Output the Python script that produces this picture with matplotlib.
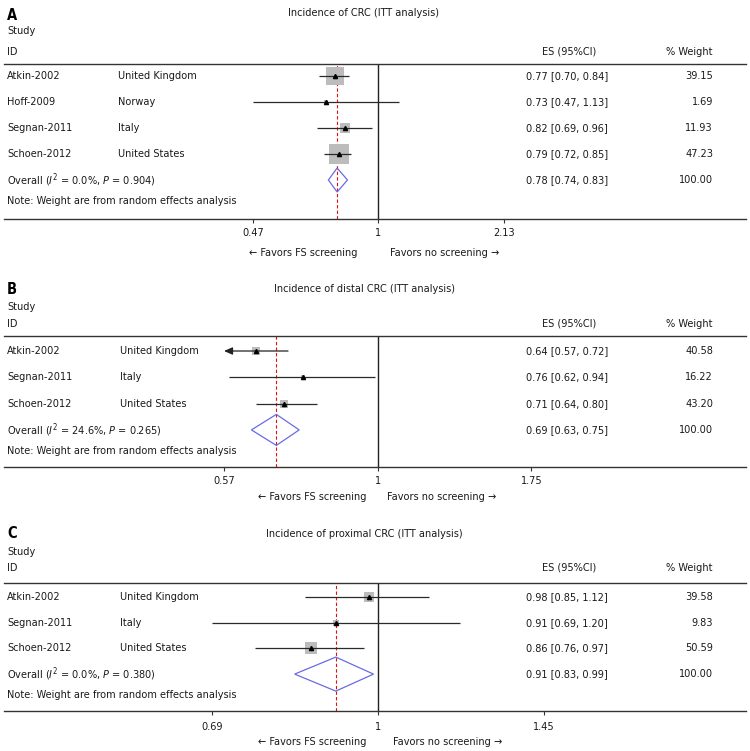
import numpy as np
import matplotlib
matplotlib.use("Agg")
import matplotlib.pyplot as plt
from matplotlib import transforms
from matplotlib.patches import Polygon
from matplotlib.ticker import NullLocator

# ---------------- data ----------------
a_title = "Incidence of CRC (ITT analysis)"
a_studies = ["Atkin-2002", "Hoff-2009", "Segnan-2011", "Schoen-2012"]
a_countries = ["United Kingdom", "Norway", "Italy", "United States"]
a_es = [0.77, 0.73, 0.82, 0.79]
a_lo = [0.70, 0.47, 0.69, 0.72]
a_hi = [0.84, 1.13, 0.96, 0.85]
a_ci_text = ["0.77 [0.70, 0.84]", "0.73 [0.47, 1.13]", "0.82 [0.69, 0.96]", "0.79 [0.72, 0.85]"]
a_weight = [39.15, 1.69, 11.93, 47.23]
a_overall = [0.78, 0.74, 0.83]
a_overall_text = "0.78 [0.74, 0.83]"
a_i2, a_p = "0.0%", "0.904"
a_ticks = [0.47, 1, 2.13]
a_ticklabels = ["0.47", "1", "2.13"]
a_arrow_left = [False, False, False, False]

b_title = "Incidence of distal CRC (ITT analysis)"
b_studies = ["Atkin-2002", "Segnan-2011", "Schoen-2012"]
b_countries = ["United Kingdom", "Italy", "United States"]
b_es = [0.64, 0.76, 0.71]
b_lo = [0.57, 0.58, 0.64]
b_hi = [0.72, 0.99, 0.80]
b_ci_text = ["0.64 [0.57, 0.72]", "0.76 [0.62, 0.94]", "0.71 [0.64, 0.80]"]
b_weight = [40.58, 16.22, 43.20]
b_overall = [0.69, 0.63, 0.75]
b_overall_text = "0.69 [0.63, 0.75]"
b_i2, b_p = "24.6%", "0.265"
b_ticks = [0.57, 1, 1.75]
b_ticklabels = ["0.57", "1", "1.75"]
b_arrow_left = [True, False, False]

c_title = "Incidence of proximal CRC (ITT analysis)"
c_studies = ["Atkin-2002", "Segnan-2011", "Schoen-2012"]
c_countries = ["United Kingdom", "Italy", "United States"]
c_es = [0.98, 0.91, 0.86]
c_lo = [0.85, 0.69, 0.76]
c_hi = [1.12, 1.20, 0.97]
c_ci_text = ["0.98 [0.85, 1.12]", "0.91 [0.69, 1.20]", "0.86 [0.76, 0.97]"]
c_weight = [39.58, 9.83, 50.59]
c_overall = [0.91, 0.83, 0.99]
c_overall_text = "0.91 [0.83, 0.99]"
c_i2, c_p = "0.0%", "0.380"
c_ticks = [0.69, 1, 1.45]
c_ticklabels = ["0.69", "1", "1.45"]
c_arrow_left = [False, False, False]

# ---------------- style ----------------
plt.rcParams["font.family"] = ["DejaVu Sans"]
plt.rcParams["font.stretch"] = "condensed"
plt.rcParams["mathtext.fontset"] = "custom"
plt.rcParams["mathtext.rm"] = "DejaVu Sans"
plt.rcParams["mathtext.it"] = "DejaVu Sans:italic"
FS = 7.8
TXT = "#1a1a1a"

W, H = 750, 751
fig = plt.figure(figsize=(W / 100, H / 100), dpi=100)
fig.patch.set_facecolor("white")


def fx(x):
    return x / W


def fy(y):
    return 1 - y / H


def panel(letter, title, studies, countries, es, lo, hi, ci_text, weight,
          overall, overall_text, i2, p, ticks, ticklabels, arrow_left, lay):
    top, bot, first, sp = lay["top"], lay["bot"], lay["first"], lay["sp"]
    L, R = 4, 746
    ax = fig.add_axes([fx(L), fy(bot), (R - L) / W, (bot - top) / H])
    ax.set_xscale("log")
    scale = (lay["p_one"] - lay["p_lo"]) / (-np.log(ticks[0]))
    ax.set_xlim(np.exp((L - lay["p_one"]) / scale), np.exp((R - lay["p_one"]) / scale))
    ax.set_ylim((bot - first) / sp, (top - first) / sp)
    for s in ["left", "right"]:
        ax.spines[s].set_visible(False)
    for s in ["top", "bottom"]:
        ax.spines[s].set_linewidth(1.0)
        ax.spines[s].set_color("#333333")
    ax.set_yticks([])
    ax.set_xticks(ticks)
    ax.set_xticklabels([])
    ax.xaxis.set_minor_locator(NullLocator())
    ax.tick_params(axis="x", length=3, width=0.8, color="#333333", direction="out")
    ax.patch.set_alpha(0)

    n = len(studies)
    rows = np.arange(n)
    ov_row = n
    ax.axvline(1, color="#222222", lw=1.0, zorder=1)
    ax.axvline(overall[0], color="#e01010", lw=0.8, ls=(0, (3, 2)), zorder=2)

    for r, e, l, h, w, arr in zip(rows, es, lo, hi, weight, arrow_left):
        side = lay["k"] * np.sqrt(w) * 0.72
        ax.scatter([e], [r], marker="s", s=side ** 2, color="#bcbcbc", lw=0, zorder=3)
        if arr:
            ax.annotate("", xy=(l, r), xytext=(h, r),
                        arrowprops=dict(arrowstyle="-|>,head_length=0.5,head_width=0.22",
                                        color="#222222", lw=0.9, shrinkA=0, shrinkB=0),
                        zorder=4)
        else:
            ax.plot([l, h], [r, r], color="#2a2a2a", lw=0.9, zorder=4, solid_capstyle="butt")
        ax.plot([e], [r], marker="^", ms=3, color="black", lw=0, zorder=5)

    dh = lay["dh"] / sp
    poly = Polygon([(overall[1], ov_row), (overall[0], ov_row - dh),
                    (overall[2], ov_row), (overall[0], ov_row + dh)],
                   closed=True, fill=False, edgecolor="#6a6ae6", lw=0.9, zorder=4)
    ax.add_patch(poly)

    tr = transforms.blended_transform_factory(fig.transFigure, ax.transData)
    for r, st, co, ct, w in zip(rows, studies, countries, ci_text, weight):
        ax.text(fx(7), r, st, transform=tr, fontsize=FS, color=TXT, va="center", ha="left")
        ax.text(fx(lay["cx"]), r, co, transform=tr, fontsize=FS, color=TXT, va="center", ha="left")
        ax.text(fx(567), r, ct, transform=tr, fontsize=FS, color=TXT, va="center", ha="center")
        ax.text(fx(713), r, f"{w:.2f}", transform=tr, fontsize=FS, color=TXT, va="center", ha="right")
    ax.text(fx(7), ov_row, r"Overall ($\mathit{I}^2$ = " + i2 + r", $\mathit{P}$ = " + p + ")",
            transform=tr, fontsize=FS, color=TXT, va="center", ha="left")
    ax.text(fx(567), ov_row, overall_text, transform=tr, fontsize=FS, color=TXT, va="center", ha="center")
    ax.text(fx(713), ov_row, "100.00", transform=tr, fontsize=FS, color=TXT, va="center", ha="right")
    ax.text(fx(7), ov_row + lay["note"] / sp, "Note: Weight are from random effects analysis",
            transform=tr, fontsize=FS, color=TXT, va="center", ha="left")

    # header texts
    fig.text(fx(7), fy(lay["letter"]), letter, fontsize=10.5, fontweight="bold", va="center", ha="left")
    fig.text(fx(364), fy(lay["title"]), title, fontsize=FS, color=TXT, va="center", ha="center")
    fig.text(fx(7), fy(lay["study"]), "Study", fontsize=FS, color=TXT, va="center", ha="left")
    fig.text(fx(7), fy(lay["id"]), "ID", fontsize=FS, color=TXT, va="center", ha="left")
    fig.text(fx(569), fy(lay["id"]), "ES (95%CI)", fontsize=FS, color=TXT, va="center", ha="center")
    fig.text(fx(713), fy(lay["id"]), "% Weight", fontsize=FS, color=TXT, va="center", ha="right")

    # tick labels and favours text
    trx = transforms.blended_transform_factory(ax.transData, fig.transFigure)
    for t, tl in zip(ticks, ticklabels):
        ax.text(t, fy(lay["tick"]), tl, transform=trx, fontsize=FS, color=TXT, va="center", ha="center")
    tl_ = transforms.offset_copy(trx, fig=fig, x=-lay["fl"], y=0, units="dots")
    tr_ = transforms.offset_copy(trx, fig=fig, x=lay["fr"], y=0, units="dots")
    ax.text(1, fy(lay["fav"]), "\u2190 Favors FS screening", transform=tl_, fontsize=FS, color=TXT,
            va="center", ha="right")
    ax.text(1, fy(lay["fav"]), "Favors no screening \u2192", transform=tr_, fontsize=FS, color=TXT,
            va="center", ha="left")


lay_a = dict(top=64, bot=219, first=76, sp=26.0, p_lo=253, p_one=378.4, k=2.9, dh=12, note=21,
             letter=15, title=13, study=31, id=52, tick=233, fav=253, cx=118, fl=21, fr=12)
lay_b = dict(top=336, bot=467, first=351, sp=26.3, p_lo=224, p_one=378, k=1.15, dh=15.5, note=21,
             letter=290, title=289, study=307, id=324, tick=481, fav=497, cx=120, fl=11, fr=9)
lay_c = dict(top=583, bot=711, first=597, sp=25.7, p_lo=212, p_one=378, k=1.6, dh=17, note=21,
             letter=534, title=534, study=552, id=568, tick=727, fav=742, cx=120, fl=11, fr=15)

panel("A", a_title, a_studies, a_countries, a_es, a_lo, a_hi, a_ci_text, a_weight,
      a_overall, a_overall_text, a_i2, a_p, a_ticks, a_ticklabels, a_arrow_left, lay_a)
panel("B", b_title, b_studies, b_countries, b_es, b_lo, b_hi, b_ci_text, b_weight,
      b_overall, b_overall_text, b_i2, b_p, b_ticks, b_ticklabels, b_arrow_left, lay_b)
panel("C", c_title, c_studies, c_countries, c_es, c_lo, c_hi, c_ci_text, c_weight,
      c_overall, c_overall_text, c_i2, c_p, c_ticks, c_ticklabels, c_arrow_left, lay_c)

fig.savefig("out.png", dpi=100, facecolor="white")
